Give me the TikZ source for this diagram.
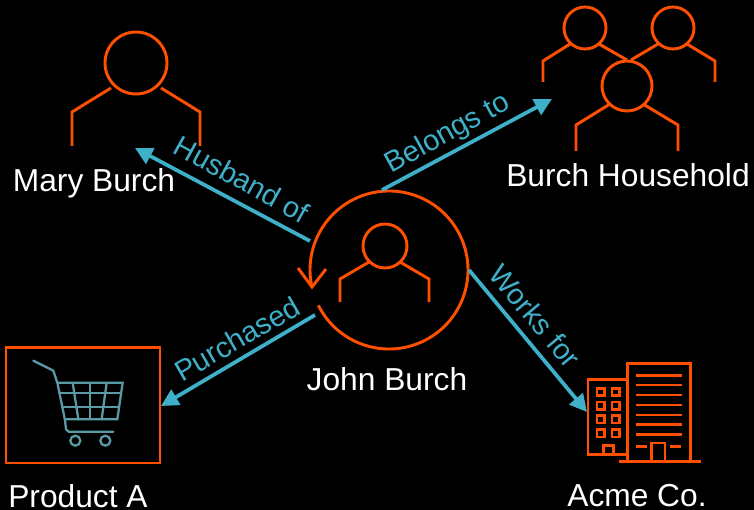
\documentclass[tikz,border=0pt]{standalone}
\usepackage{fontspec}
\setmainfont{Liberation Sans}
\usetikzlibrary{arrows.meta}
\definecolor{org}{HTML}{FF4F00}
\definecolor{teal2}{HTML}{3FB0C9}
\definecolor{cartc}{HTML}{5A9AA5}
\tikzset{
 ico/.style={draw=org,line width=2.2pt,line join=miter,fill=none},
 thin ico/.style={draw=org,line width=2.2pt},
 fine ico/.style={draw=org,line width=1.8pt},
 linkarrow/.style={draw=teal2,line width=2.8pt,-{Triangle[length=13pt,width=13pt]}},
 entitylabel/.style={text=white,font=\fontsize{23.8}{26}\selectfont,inner sep=0pt},
 rellabel/.style={text=teal2,font=\fontsize{21.8}{25}\selectfont,inner sep=0pt},
 cartl/.style={draw=cartc,line width=1.7pt,line cap=round}
}
\begin{document}
\begin{tikzpicture}[x=0.75pt,y=-0.75pt]
\useasboundingbox (0,0) rectangle (754,510);
\fill[black] (0,0) rectangle (754,510);
% John
\draw[ico] (389,270)+(153.4:79) arc[start angle=153.4,end angle=-192.5,radius=79];
\draw[ico] (298,268) -- (312,287) -- (326,269);
\draw[ico] (385,246) circle (22);
\draw[ico] (369,262) -- (340,279) -- (340,302);
\draw[ico] (400,262) -- (429,279) -- (429,302);
% Mary
\draw[ico] (136,63) circle (31);
\draw[ico] (111,88) -- (72,112) -- (72,146);
\draw[ico] (161,88) -- (200,112) -- (200,146);
% Household
\draw[ico] (585,28) circle (21);
\draw[ico] (673,28) circle (21);
\draw[ico] (627,86) circle (25);
\draw[ico] (570,44) -- (543,61) -- (543,82);
\draw[ico] (599,44) -- (627,60);
\draw[ico] (658,44) -- (631,60);
\draw[ico] (687,44) -- (715,61) -- (715,82);
\draw[ico] (610,104) -- (576,125) -- (576,151);
\draw[ico] (643,104) -- (678,125) -- (678,151);
% Product box and cart
\draw[org,line width=2pt] (6,347.5) rectangle (160,463);
\begin{scope}[shift={(0,340)},scale=1/3]
\draw[cartl] (100,62) -- (160,92) -- (172,128) -- (195,240) -- (198,268) -- (206,275) -- (340,275);
\draw[cartl] (172,128) -- (368,128) -- (352,238) -- (195,238);
\draw[cartl] (178,160) -- (362,160);
\draw[cartl] (185,202) -- (356,202);
\draw[cartl] (218,128) -- (235,238);
\draw[cartl] (270,128) -- (270,238);
\draw[cartl] (320,128) -- (305,238);
\draw[cartl] (226,302) circle (15);
\draw[cartl] (316,302) circle (15);
\end{scope}
% Building
\begin{scope}[shift={(570,350)},scale=1/3]
\draw[thin ico] (173,333) -- (173,40) -- (362,40) -- (362,333);
\draw[thin ico] (147,335) -- (392,335);
\draw[fine ico] (173,88) -- (54,88) -- (54,313) -- (173,313);
\foreach \wx in {92,137}
 \foreach \wy in {126,167,208,250}
  \draw[thin ico] (\wx-11,\wy-11) rectangle (\wx+11,\wy+11);
\draw[fine ico] (100,313) -- (100,287) -- (131,287) -- (131,313);
\draw[fine ico] (245,333) -- (245,279) -- (285,279) -- (285,333);
\draw[thin ico] (198,76) -- (336,76);
\foreach \ly in {105,135,165,195,224,254}
 \draw[fine ico] (198,\ly) -- (336,\ly);
\draw[fine ico] (198,289) -- (230,289);
\draw[fine ico] (301,289) -- (332,289);
\end{scope}
% Anchors
\coordinate (jt) at (382,190);
\coordinate (hh) at (552,99);
\coordinate (jl) at (310,241);
\coordinate (mb) at (135,148);
\coordinate (js) at (315,315);
\coordinate (pa) at (161,406);
\coordinate (jr) at (469,270);
\coordinate (ac) at (587,412);
\draw[linkarrow] (jt) -- (hh);
\draw[linkarrow] (jl) -- (mb);
\draw[linkarrow] (js) -- (pa);
\draw[linkarrow] (jr) -- (ac);
% Names
\node[entitylabel] (mary) at (94,183) {Mary Burch};
\node[entitylabel] (house) at (628,175) {Burch Household};
\node[entitylabel] (john) at (387,379) {John Burch};
\node[entitylabel] (prod) at (78,496) {Product A};
\node[entitylabel] (acme) at (637,496) {Acme Co.};
% Relations
\node[rellabel,rotate=-29] (husb) at (242,179) {Husband of};
\node[rellabel,rotate=29] (bel) at (448,134) {Belongs to};
\node[rellabel,rotate=30] (pur) at (237,339) {Purchased};
\node[rellabel,rotate=-50] (wor) at (535,316) {Works for};
\end{tikzpicture}
\end{document}
